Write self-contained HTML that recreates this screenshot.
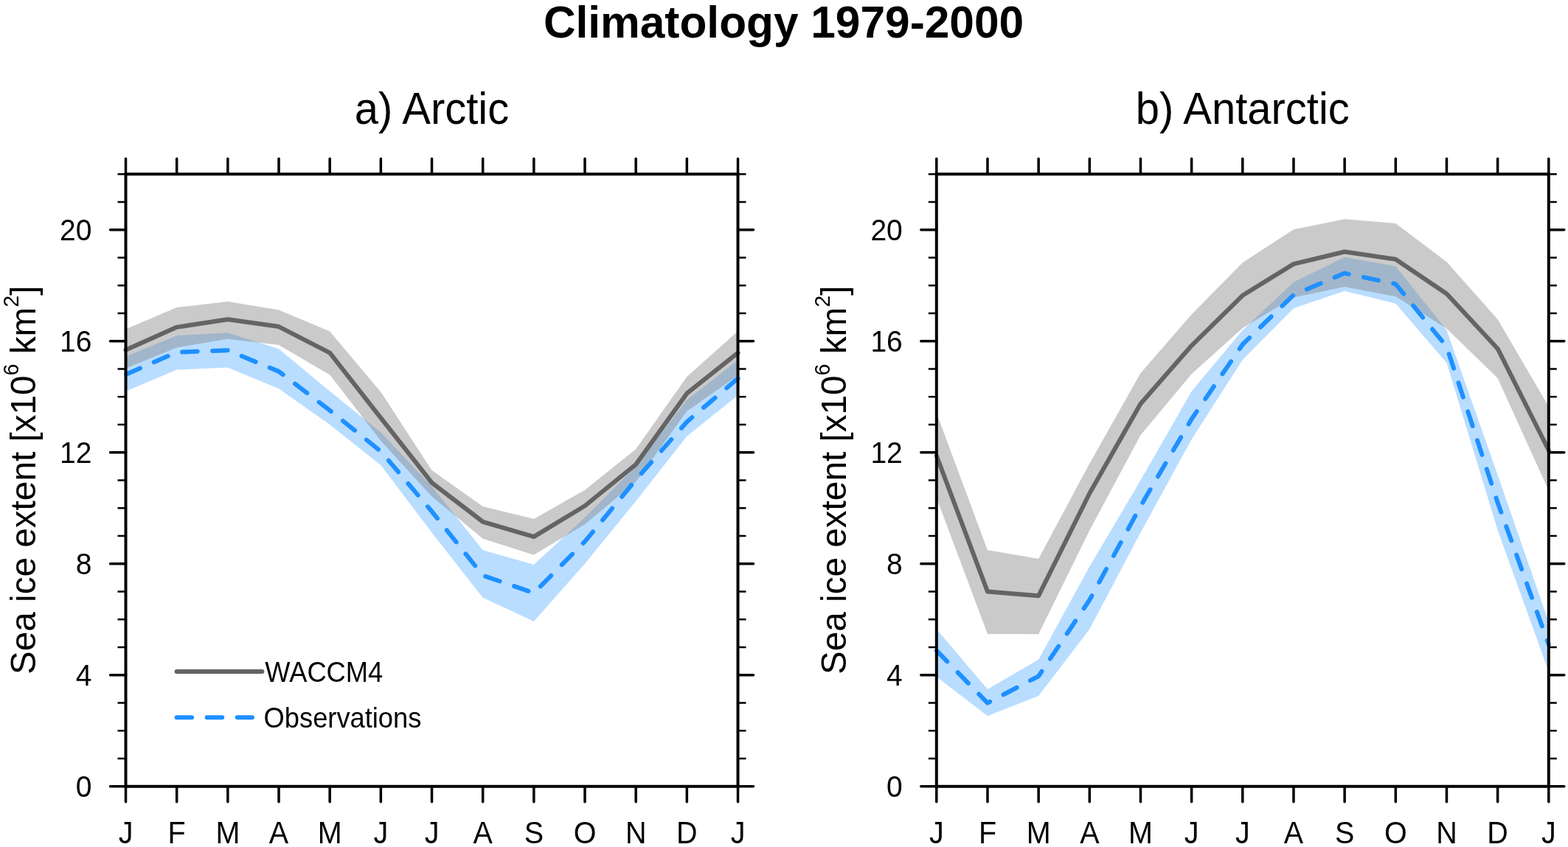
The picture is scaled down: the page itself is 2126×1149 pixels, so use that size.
<!DOCTYPE html>
<html><head><meta charset="utf-8"><title>Climatology 1979-2000</title>
<style>html,body{margin:0;padding:0;background:#fff;}svg{display:block;}text{font-family:'Liberation Sans', Arial, Helvetica, sans-serif;fill:#000;}</style>
</head><body>
<svg width="2126" height="1149" viewBox="0 0 2126 1149">
<rect x="0" y="0" width="2126" height="1149" fill="#fff"/>
<text x="1062.5" y="51" text-anchor="middle" font-weight="bold" font-size="60.4" transform="translate(0,51) scale(1,1) translate(0,-51)">Climatology 1979-2000</text>
<text transform="translate(585.5,168.4) scale(1,1.055)" text-anchor="middle" font-size="58">a) Arctic</text>
<polygon points="170.5,483.492 239.667,455.176 308.833,451.401 378,473.299 447.167,530.685 516.333,586.562 585.5,659.806 654.667,746.264 723.833,765.896 793,702.091 862.167,632.623 931.333,542.767 1000.5,488.4 1000.5,536.349 931.333,591.848 862.167,679.816 793,764.764 723.833,842.916 654.667,810.824 585.5,722.479 516.333,631.113 447.167,575.991 378,527.288 308.833,498.594 239.667,501.614 170.5,530.685" fill="rgb(30,144,255)" fill-opacity="0.31"/>
<polygon points="170.5,446.493 239.667,417.044 308.833,409.116 378,420.442 447.167,449.513 516.333,531.818 585.5,637.908 654.667,686.989 723.833,703.979 793,664.714 862.167,609.215 931.333,511.053 1000.5,449.136 1000.5,509.543 931.333,557.869 862.167,653.388 793,711.152 723.833,752.682 654.667,730.785 585.5,673.398 516.333,597.889 447.167,508.41 378,468.013 308.833,459.707 239.667,471.411 170.5,499.727" fill="rgb(128,128,128)" fill-opacity="0.42"/>
<polyline points="170.5,474.809 239.667,443.85 308.833,433.279 378,443.095 447.167,478.584 516.333,566.93 585.5,654.898 654.667,707.754 723.833,728.142 793,686.234 862.167,629.98 931.333,533.706 1000.5,478.584" fill="none" stroke="rgb(100,100,100)" stroke-width="6" stroke-linejoin="round" stroke-linecap="round"/>
<polyline points="170.5,508.033 239.667,477.829 308.833,475.186 378,503.88 447.167,556.736 516.333,612.235 585.5,693.785 654.667,780.621 723.833,804.406 793,734.56 862.167,650.745 931.333,572.215 1000.5,513.318" fill="none" stroke="rgb(30,144,255)" stroke-width="6" stroke-linejoin="round" stroke-linecap="round" stroke-dasharray="20.5 20.58" stroke-dashoffset="-0.8"/>
<rect x="170.5" y="236.2" width="830" height="830.6" fill="none" stroke="#000" stroke-width="4"/>
<path d="M170.5,236.2V215.2M170.5,1066.8V1087.8M239.667,236.2V215.2M239.667,1066.8V1087.8M308.833,236.2V215.2M308.833,1066.8V1087.8M378,236.2V215.2M378,1066.8V1087.8M447.167,236.2V215.2M447.167,1066.8V1087.8M516.333,236.2V215.2M516.333,1066.8V1087.8M585.5,236.2V215.2M585.5,1066.8V1087.8M654.667,236.2V215.2M654.667,1066.8V1087.8M723.833,236.2V215.2M723.833,1066.8V1087.8M793,236.2V215.2M793,1066.8V1087.8M862.167,236.2V215.2M862.167,1066.8V1087.8M931.333,236.2V215.2M931.333,1066.8V1087.8M1000.5,236.2V215.2M1000.5,1066.8V1087.8M170.5,1066.8H149.5M1000.5,1066.8H1021.5M170.5,915.782H149.5M1000.5,915.782H1021.5M170.5,764.764H149.5M1000.5,764.764H1021.5M170.5,613.745H149.5M1000.5,613.745H1021.5M170.5,462.727H149.5M1000.5,462.727H1021.5M170.5,311.709H149.5M1000.5,311.709H1021.5" stroke="#000" stroke-width="3.5" stroke-linecap="round" fill="none"/>
<path d="M170.5,1029.045H159.5M1000.5,1029.045H1011.5M170.5,991.291H159.5M1000.5,991.291H1011.5M170.5,953.536H159.5M1000.5,953.536H1011.5M170.5,878.027H159.5M1000.5,878.027H1011.5M170.5,840.273H159.5M1000.5,840.273H1011.5M170.5,802.518H159.5M1000.5,802.518H1011.5M170.5,727.009H159.5M1000.5,727.009H1011.5M170.5,689.255H159.5M1000.5,689.255H1011.5M170.5,651.5H159.5M1000.5,651.5H1011.5M170.5,575.991H159.5M1000.5,575.991H1011.5M170.5,538.236H159.5M1000.5,538.236H1011.5M170.5,500.482H159.5M1000.5,500.482H1011.5M170.5,424.973H159.5M1000.5,424.973H1011.5M170.5,387.218H159.5M1000.5,387.218H1011.5M170.5,349.464H159.5M1000.5,349.464H1011.5M170.5,273.955H159.5M1000.5,273.955H1011.5M170.5,236.2H159.5M1000.5,236.2H1011.5" stroke="#000" stroke-width="2.4" fill="none"/>
<text transform="translate(124.5,1080.773) scale(1,1.035)" text-anchor="end" font-size="39">0</text>
<text transform="translate(124.5,929.754) scale(1,1.035)" text-anchor="end" font-size="39">4</text>
<text transform="translate(124.5,778.736) scale(1,1.035)" text-anchor="end" font-size="39">8</text>
<text transform="translate(124.5,627.718) scale(1,1.035)" text-anchor="end" font-size="39">12</text>
<text transform="translate(124.5,476.7) scale(1,1.035)" text-anchor="end" font-size="39">16</text>
<text transform="translate(124.5,325.682) scale(1,1.035)" text-anchor="end" font-size="39">20</text>
<text transform="translate(170.5,1144.3) scale(1,1.07)" text-anchor="middle" font-size="39.5">J</text>
<text transform="translate(239.667,1144.3) scale(1,1.07)" text-anchor="middle" font-size="39.5">F</text>
<text transform="translate(308.833,1144.3) scale(1,1.07)" text-anchor="middle" font-size="39.5">M</text>
<text transform="translate(378,1144.3) scale(1,1.07)" text-anchor="middle" font-size="39.5">A</text>
<text transform="translate(447.167,1144.3) scale(1,1.07)" text-anchor="middle" font-size="39.5">M</text>
<text transform="translate(516.333,1144.3) scale(1,1.07)" text-anchor="middle" font-size="39.5">J</text>
<text transform="translate(585.5,1144.3) scale(1,1.07)" text-anchor="middle" font-size="39.5">J</text>
<text transform="translate(654.667,1144.3) scale(1,1.07)" text-anchor="middle" font-size="39.5">A</text>
<text transform="translate(723.833,1144.3) scale(1,1.07)" text-anchor="middle" font-size="39.5">S</text>
<text transform="translate(793,1144.3) scale(1,1.07)" text-anchor="middle" font-size="39.5">O</text>
<text transform="translate(862.167,1144.3) scale(1,1.07)" text-anchor="middle" font-size="39.5">N</text>
<text transform="translate(931.333,1144.3) scale(1,1.07)" text-anchor="middle" font-size="39.5">D</text>
<text transform="translate(1000.5,1144.3) scale(1,1.07)" text-anchor="middle" font-size="39.5">J</text>
<text transform="translate(48,651.3) rotate(-90)" text-anchor="middle" font-size="47.7">Sea ice extent [x10<tspan font-size="28.62" dy="-22.7">6</tspan><tspan dy="22.7"> km</tspan><tspan font-size="28.62" dy="-22.7">2</tspan><tspan dy="22.7">]</tspan></text>
<text transform="translate(1684.8,168.4) scale(1,1.055)" text-anchor="middle" font-size="58">b) Antarctic</text>
<polygon points="1269.8,853.487 1338.967,935.037 1408.133,894.639 1477.3,768.539 1546.467,651.5 1615.633,530.685 1684.8,448.003 1753.967,382.688 1823.133,348.709 1892.3,361.168 1961.467,447.625 2030.633,644.327 2099.8,843.671 2099.8,911.251 2030.633,719.081 1961.467,492.176 1892.3,411.759 1823.133,394.769 1753.967,418.177 1684.8,488.023 1615.633,596.001 1546.467,722.479 1477.3,853.487 1408.133,944.098 1338.967,971.281 1269.8,918.047" fill="rgb(30,144,255)" fill-opacity="0.31"/>
<polygon points="1269.8,560.134 1338.967,746.264 1408.133,757.968 1477.3,628.847 1546.467,506.145 1615.633,426.483 1684.8,356.259 1753.967,311.332 1823.133,297.362 1892.3,303.026 1961.467,355.127 2030.633,433.279 2099.8,551.45 2099.8,665.469 2030.633,512.941 1961.467,445.738 1892.3,402.32 1823.133,389.106 1753.967,403.453 1684.8,444.983 1615.633,507.278 1546.467,590.338 1477.3,719.458 1408.133,860.283 1338.967,859.905 1269.8,675.285" fill="rgb(128,128,128)" fill-opacity="0.42"/>
<polyline points="1269.8,618.276 1338.967,802.518 1408.133,808.181 1477.3,669.245 1546.467,547.675 1615.633,468.768 1684.8,400.81 1753.967,358.147 1823.133,341.535 1892.3,351.729 1961.467,398.545 2030.633,472.921 2099.8,610.725" fill="none" stroke="rgb(100,100,100)" stroke-width="6" stroke-linejoin="round" stroke-linecap="round"/>
<polyline points="1269.8,882.558 1338.967,953.536 1408.133,917.292 1477.3,813.845 1546.467,686.612 1615.633,568.44 1684.8,467.258 1753.967,400.055 1823.133,370.606 1892.3,385.33 1961.467,470.278 2030.633,681.704 2099.8,874.252" fill="none" stroke="rgb(30,144,255)" stroke-width="6" stroke-linejoin="round" stroke-linecap="round" stroke-dasharray="20.5 20.58" stroke-dashoffset="-0.2"/>
<rect x="1269.8" y="236.2" width="830" height="830.6" fill="none" stroke="#000" stroke-width="4"/>
<path d="M1269.8,236.2V215.2M1269.8,1066.8V1087.8M1338.967,236.2V215.2M1338.967,1066.8V1087.8M1408.133,236.2V215.2M1408.133,1066.8V1087.8M1477.3,236.2V215.2M1477.3,1066.8V1087.8M1546.467,236.2V215.2M1546.467,1066.8V1087.8M1615.633,236.2V215.2M1615.633,1066.8V1087.8M1684.8,236.2V215.2M1684.8,1066.8V1087.8M1753.967,236.2V215.2M1753.967,1066.8V1087.8M1823.133,236.2V215.2M1823.133,1066.8V1087.8M1892.3,236.2V215.2M1892.3,1066.8V1087.8M1961.467,236.2V215.2M1961.467,1066.8V1087.8M2030.633,236.2V215.2M2030.633,1066.8V1087.8M2099.8,236.2V215.2M2099.8,1066.8V1087.8M1269.8,1066.8H1248.8M2099.8,1066.8H2120.8M1269.8,915.782H1248.8M2099.8,915.782H2120.8M1269.8,764.764H1248.8M2099.8,764.764H2120.8M1269.8,613.745H1248.8M2099.8,613.745H2120.8M1269.8,462.727H1248.8M2099.8,462.727H2120.8M1269.8,311.709H1248.8M2099.8,311.709H2120.8" stroke="#000" stroke-width="3.5" stroke-linecap="round" fill="none"/>
<path d="M1269.8,1029.045H1258.8M2099.8,1029.045H2110.8M1269.8,991.291H1258.8M2099.8,991.291H2110.8M1269.8,953.536H1258.8M2099.8,953.536H2110.8M1269.8,878.027H1258.8M2099.8,878.027H2110.8M1269.8,840.273H1258.8M2099.8,840.273H2110.8M1269.8,802.518H1258.8M2099.8,802.518H2110.8M1269.8,727.009H1258.8M2099.8,727.009H2110.8M1269.8,689.255H1258.8M2099.8,689.255H2110.8M1269.8,651.5H1258.8M2099.8,651.5H2110.8M1269.8,575.991H1258.8M2099.8,575.991H2110.8M1269.8,538.236H1258.8M2099.8,538.236H2110.8M1269.8,500.482H1258.8M2099.8,500.482H2110.8M1269.8,424.973H1258.8M2099.8,424.973H2110.8M1269.8,387.218H1258.8M2099.8,387.218H2110.8M1269.8,349.464H1258.8M2099.8,349.464H2110.8M1269.8,273.955H1258.8M2099.8,273.955H2110.8M1269.8,236.2H1258.8M2099.8,236.2H2110.8" stroke="#000" stroke-width="2.4" fill="none"/>
<text transform="translate(1223.8,1080.773) scale(1,1.035)" text-anchor="end" font-size="39">0</text>
<text transform="translate(1223.8,929.754) scale(1,1.035)" text-anchor="end" font-size="39">4</text>
<text transform="translate(1223.8,778.736) scale(1,1.035)" text-anchor="end" font-size="39">8</text>
<text transform="translate(1223.8,627.718) scale(1,1.035)" text-anchor="end" font-size="39">12</text>
<text transform="translate(1223.8,476.7) scale(1,1.035)" text-anchor="end" font-size="39">16</text>
<text transform="translate(1223.8,325.682) scale(1,1.035)" text-anchor="end" font-size="39">20</text>
<text transform="translate(1269.8,1144.3) scale(1,1.07)" text-anchor="middle" font-size="39.5">J</text>
<text transform="translate(1338.967,1144.3) scale(1,1.07)" text-anchor="middle" font-size="39.5">F</text>
<text transform="translate(1408.133,1144.3) scale(1,1.07)" text-anchor="middle" font-size="39.5">M</text>
<text transform="translate(1477.3,1144.3) scale(1,1.07)" text-anchor="middle" font-size="39.5">A</text>
<text transform="translate(1546.467,1144.3) scale(1,1.07)" text-anchor="middle" font-size="39.5">M</text>
<text transform="translate(1615.633,1144.3) scale(1,1.07)" text-anchor="middle" font-size="39.5">J</text>
<text transform="translate(1684.8,1144.3) scale(1,1.07)" text-anchor="middle" font-size="39.5">J</text>
<text transform="translate(1753.967,1144.3) scale(1,1.07)" text-anchor="middle" font-size="39.5">A</text>
<text transform="translate(1823.133,1144.3) scale(1,1.07)" text-anchor="middle" font-size="39.5">S</text>
<text transform="translate(1892.3,1144.3) scale(1,1.07)" text-anchor="middle" font-size="39.5">O</text>
<text transform="translate(1961.467,1144.3) scale(1,1.07)" text-anchor="middle" font-size="39.5">N</text>
<text transform="translate(2030.633,1144.3) scale(1,1.07)" text-anchor="middle" font-size="39.5">D</text>
<text transform="translate(2099.8,1144.3) scale(1,1.07)" text-anchor="middle" font-size="39.5">J</text>
<text transform="translate(1147.3,651.3) rotate(-90)" text-anchor="middle" font-size="47.7">Sea ice extent [x10<tspan font-size="28.62" dy="-22.7">6</tspan><tspan dy="22.7"> km</tspan><tspan font-size="28.62" dy="-22.7">2</tspan><tspan dy="22.7">]</tspan></text>
<path d="M239.6,911H355.4" stroke="rgb(100,100,100)" stroke-width="6" stroke-linecap="round"/>
<path d="M239.6,973.2H342" stroke="rgb(30,144,255)" stroke-width="6" stroke-linecap="round" stroke-dasharray="20.5 20.58"/>
<text transform="translate(359.3,925.1) scale(1,1.05)" font-size="36.3">WACCM4</text>
<text transform="translate(357.6,987.2) scale(1,1.05)" font-size="36.3">Observations</text>
</svg></body></html>
